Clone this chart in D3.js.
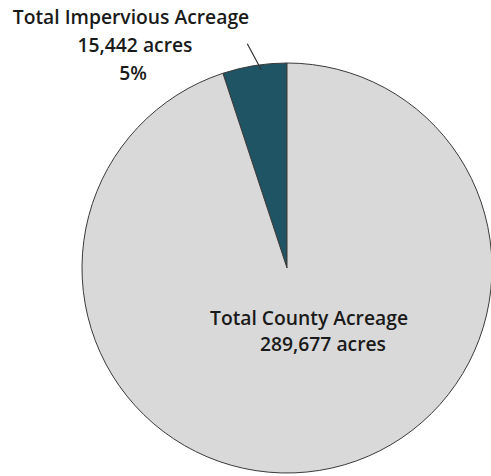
<!DOCTYPE html>
<html>
<head>
<meta charset="utf-8">
<script src="https://cdn.jsdelivr.net/npm/d3@7"></script>
<style>
  html, body { margin: 0; padding: 0; background: #fff; }
  svg { display: block; }
  text { font-family: "Open Sans", "Liberation Sans", sans-serif; font-weight: 600; fill: #1a1a1a; }
</style>
</head>
<body>
<svg id="chart" width="491" height="476"></svg>
<script>
// Acreage breakdown
const categories = ["Total Impervious Acreage", "Total County Acreage"];
const acres = [15442, 289677];
const colors = ["#1e5464", "#d9d9d9"];

const width = 491, height = 476;
const cx = 287, cy = 268, radius = 205;

const svg = d3.select("#chart");
const g = svg.append("g").attr("transform", `translate(${cx},${cy})`);

const total = d3.sum(acres);
const impShare = acres[0] / total;

// Impervious slice ends at 12 o'clock, sweeping counter-clockwise from there
const pie = d3.pie()
  .sort(null)
  .startAngle(-2 * Math.PI * impShare)
  .endAngle(2 * Math.PI - 2 * Math.PI * impShare);

const arcs = pie(acres);
const arc = d3.arc().innerRadius(0).outerRadius(radius);

g.selectAll("path.slice")
  .data(arcs)
  .join("path")
  .attr("class", "slice")
  .attr("d", arc)
  .attr("fill", (d, i) => colors[i])
  .attr("stroke", "#3a3a3a")
  .attr("stroke-width", 1)
  .attr("stroke-linejoin", "round");

const fmt = d3.format(",");
const pct = d3.format(".0%");

// Leader line from just inside the small slice up toward its label
const imp = arcs[0];
const midA = (imp.startAngle + imp.endAngle) / 2 + 0.03;
const rIn = radius - 5;
const pIn = [Math.sin(midA) * rIn, -Math.cos(midA) * rIn];
const pOut = [pIn[0] - 14, pIn[1] - 26];
g.append("line")
  .attr("x1", pIn[0]).attr("y1", pIn[1])
  .attr("x2", pOut[0]).attr("y2", pOut[1])
  .attr("stroke", "#333")
  .attr("stroke-width", 1.2);

// Impervious label block
const impLabel = svg.append("text")
  .attr("text-anchor", "middle")
  .attr("font-size", 19.3);
[[categories[0], 131, 24], [fmt(acres[0]) + " acres", 135, 52], [pct(impShare), 133, 80]]
  .forEach(([t, x, y]) => impLabel.append("tspan").attr("x", x).attr("y", y).text(t));

// County label block
const cLabel = svg.append("text")
  .attr("text-anchor", "middle")
  .attr("font-size", 19.3);
[[categories[1], 309, 325], [fmt(acres[1]) + " acres", 323, 351]]
  .forEach(([t, x, y]) => cLabel.append("tspan").attr("x", x).attr("y", y).text(t));
</script>
</body>
</html>
